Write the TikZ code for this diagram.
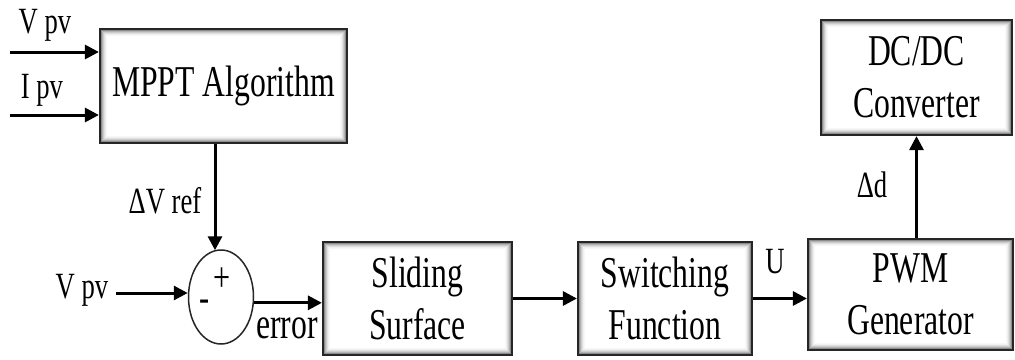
\documentclass[tikz,border=0pt]{standalone}
\usepackage{fontspec}
\setmainfont{Liberation Serif}
\newfontfamily\boxfont[FakeStretch=0.72]{Liberation Serif}
\usetikzlibrary{arrows.meta,shapes.geometric,calc}

\tikzset{
  blk/.style={draw=black!85, line width=2.2pt, fill=white, inner sep=0pt, align=center,
    font={\boxfont\fontsize{44}{52}\selectfont},
    path picture={
      \foreach \i/\c in {1/45,2/30,3/20,4/12,5/6,6/3}{
        \draw[black!\c, line width=1.2pt]
          ([shift={(\i*1.1pt,\i*1.1pt)}]path picture bounding box.south west) rectangle
          ([shift={(-\i*1.1pt,-\i*1.1pt)}]path picture bounding box.north east);
      }}},
  sumnode/.style={draw=black!85, line width=1.5pt, ellipse, inner sep=0pt,
    minimum width=65pt, minimum height=94pt},
  arr/.style={line width=3pt, -{Triangle[length=14pt,width=14pt]}},
  lab/.style={inner sep=0pt, anchor=base, font={\boxfont\fontsize{37}{40}\selectfont}},
  sgn/.style={inner sep=0pt, font={\boxfont\fontsize{42}{44}\selectfont}},
}

\begin{document}
\begin{tikzpicture}[x=1pt,y=-1pt]
  \useasboundingbox (0,0) rectangle (1015,359);

  % blocks
  \node[blk, minimum width=247pt, minimum height=114pt] (mppt) at (223.5,86) {MPPT Algorithm};
  \node[blk, minimum width=189pt, minimum height=113pt] (ss) at (417.5,298.5) {Sliding\\Surface};
  \node[blk, minimum width=174pt, minimum height=113pt] (sf) at (665,298.5) {Switching\\Function};
  \node[blk, minimum width=205pt, minimum height=111pt] (pwm) at (910.5,294.5) {PWM\\Generator};
  \node[blk, minimum width=191pt, minimum height=115pt] (dc) at (916.5,77.5) {DC/DC\\Converter};

  % summing junction
  \node[sumnode] (sum) at (221,297) {};
  \node[sgn] (plus) at (222,280) {+};
  \node[sgn] (minus) at (205,306) {-};

  % free ends of the input lines and the entry point of the reference line
  \coordinate (vin) at (10,52);
  \coordinate (iin) at (10,115);
  \coordinate (vpv) at (116,293);
  \coordinate (reftop) at ($(sum.north)+(-6,1)$);

  % connectors
  \draw[arr] (vin) -- (vin -| mppt.west);
  \draw[arr] (iin) -- (iin -| mppt.west);
  \draw[arr] (reftop |- mppt.south) -- (reftop);
  \draw[arr] (vpv) -- (vpv -| sum.west);
  \draw[arr] (sum.-10) -- (sum.-10 -| ss.west);
  \draw[arr] (ss.east) -- (sf.west);
  \draw[arr] (sf.east) -- (sf.east -| pwm.west);
  \draw[arr] (dc.south |- pwm.north) -- (dc.south);

  % signal labels
  \node[lab] (lvpv) at (45,33) {V pv};
  \node[lab] (lipv) at (42,98) {I pv};
  \node[lab] (lvref) at (165,213) {ΔV ref};
  \node[lab] (lvpv2) at (82,298) {V pv};
  \node[lab, font={\boxfont\fontsize{44}{46}\selectfont}] (lerr) at (287,338) {error};
  \node[lab] (lu) at (775,273) {U};
  \node[lab] (ld) at (872,197) {Δd};
\end{tikzpicture}
\end{document}
